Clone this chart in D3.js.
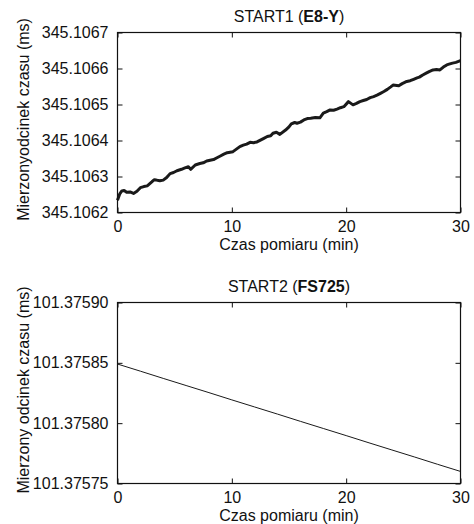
<!DOCTYPE html>
<html>
<head>
<meta charset="utf-8">
<script src="https://cdn.jsdelivr.net/npm/d3@7"></script>
<style>
  body { margin: 0; background: #fff; }
  svg text { font-family: "Liberation Sans", Arial, sans-serif; fill: #111; }
</style>
</head>
<body>
<div id="chart"></div>
<script>
// START1 (E8-Y) measured interval, minutes vs ms
let time1 = [0, 0.2, 0.38, 0.58, 0.8, 1.1, 1.4, 1.7, 2.0, 2.3, 2.6, 3.0, 3.2, 3.4, 3.7, 4.0, 4.3, 4.6, 4.9, 5.2, 5.6, 5.9, 6.2, 6.4, 6.8, 7.2, 7.5, 7.8, 8.1, 8.4, 8.7, 9.0, 9.3, 9.6, 10.1, 10.4, 10.7, 11.0, 11.3, 11.6, 11.9, 12.2, 12.5, 12.8, 13.1, 13.4, 13.6, 13.9, 14.2, 14.7, 15.0, 15.2, 15.5, 15.7, 16.0, 16.3, 16.6, 16.9, 17.3, 17.7, 18.0, 18.3, 18.6, 18.9, 19.2, 19.5, 19.8, 20.2, 20.6, 20.9, 21.2, 21.5, 21.8, 22.1, 22.4, 22.7, 23.0, 23.3, 23.6, 23.9, 24.1, 24.6, 24.9, 25.3, 25.6, 25.9, 26.2, 26.4, 26.7, 27.0, 27.3, 27.6, 27.9, 28.2, 28.5, 28.8, 29.0, 29.3, 29.6, 30];
let value1 = [345.106234, 345.106252, 345.106260, 345.106261, 345.106256, 345.106257, 345.106253, 345.106259, 345.106269, 345.106272, 345.106274, 345.106285, 345.106291, 345.106290, 345.106288, 345.106290, 345.106297, 345.106308, 345.106311, 345.106316, 345.106320, 345.106324, 345.106327, 345.106320, 345.106332, 345.106336, 345.106338, 345.106343, 345.106345, 345.106347, 345.106352, 345.106357, 345.106362, 345.106366, 345.106369, 345.106376, 345.106383, 345.106387, 345.106390, 345.106395, 345.106394, 345.106396, 345.106401, 345.106406, 345.106411, 345.106413, 345.106420, 345.106423, 345.106417, 345.106429, 345.106438, 345.106446, 345.106450, 345.106448, 345.106451, 345.106457, 345.106461, 345.106462, 345.106464, 345.106463, 345.106476, 345.106480, 345.106485, 345.106484, 345.106487, 345.106491, 345.106494, 345.106508, 345.106499, 345.106503, 345.106508, 345.106511, 345.106514, 345.106519, 345.106522, 345.106526, 345.106531, 345.106536, 345.106542, 345.106549, 345.106554, 345.106552, 345.106558, 345.106564, 345.106566, 345.106570, 345.106574, 345.106576, 345.106582, 345.106587, 345.106592, 345.106596, 345.106597, 345.106596, 345.106604, 345.106610, 345.106612, 345.106615, 345.106617, 345.106622];

// START2 (FS725)
let time2 = [0, 2, 4, 6, 8, 10, 12, 14, 16, 18, 20, 22, 24, 26, 28, 30];
let value2 = [101.3758490, 101.3758431, 101.3758371, 101.3758312, 101.3758253, 101.3758193, 101.3758134, 101.3758075, 101.3758015, 101.3757956, 101.3757897, 101.3757837, 101.3757778, 101.3757719, 101.3757659, 101.3757600];

let xTicks = [0, 10, 20, 30];
let yTicks1 = [345.1062, 345.1063, 345.1064, 345.1065, 345.1066, 345.1067];
let yTicks2 = [101.37575, 101.37580, 101.37585, 101.37590];

let width = 474;
let height = 524;

let svg = d3.select("#chart").append("svg")
    .attr("width", width)
    .attr("height", height);

function drawPanel(opts) {
    let left = 117.5, right = 460.5;
    let top = opts.top, bottom = opts.bottom;

    let x = d3.scaleLinear().domain([0, 30]).range([left, right]);
    let y = d3.scaleLinear().domain(opts.yDomain).range([bottom, top]);

    let g = svg.append("g");

    // curve
    let line = d3.line()
        .x((d, i) => x(opts.t[i]))
        .y(d => y(d));
    g.append("path")
        .datum(opts.v)
        .attr("d", line)
        .attr("fill", "none")
        .attr("stroke", "#1a1a1a")
        .attr("stroke-width", opts.lw)
        .attr("stroke-linejoin", "round");

    // axes with inward ticks, MATLAB style box
    let tl = 5;
    g.append("g")
        .attr("transform", `translate(0,${bottom})`)
        .call(d3.axisBottom(x).tickValues(xTicks).tickSizeInner(-tl).tickSizeOuter(0).tickPadding(8))
        .call(a => a.selectAll("text").style("font-size", "16px"));
    g.append("g")
        .attr("transform", `translate(0,${top})`)
        .call(d3.axisTop(x).tickValues(xTicks).tickSizeInner(-tl).tickSizeOuter(0).tickFormat(""));
    g.append("g")
        .attr("transform", `translate(${left},0)`)
        .call(d3.axisLeft(y).tickValues(opts.yTicks).tickSizeInner(-tl).tickSizeOuter(0).tickPadding(9).tickFormat(opts.fmt))
        .call(a => a.selectAll("text").style("font-size", "16px"));
    g.append("g")
        .attr("transform", `translate(${right},0)`)
        .call(d3.axisRight(y).tickValues(opts.yTicks).tickSizeInner(-tl).tickSizeOuter(0).tickFormat(""));
    g.selectAll(".domain").remove();
    g.selectAll(".tick line").attr("stroke", "#111");

    g.append("rect")
        .attr("x", left).attr("y", top)
        .attr("width", right - left).attr("height", bottom - top)
        .attr("fill", "none").attr("stroke", "#111").attr("stroke-width", 1.2);

    // title
    let title = g.append("text")
        .attr("x", (left + right) / 2)
        .attr("y", top - 11)
        .attr("text-anchor", "middle")
        .style("font-size", "16px");
    title.append("tspan").text(opts.title[0]);
    title.append("tspan").attr("font-weight", "bold").text(opts.title[1]);
    title.append("tspan").text(")");

    // axis labels
    g.append("text")
        .attr("x", (left + right) / 2)
        .attr("y", bottom + 37)
        .attr("text-anchor", "middle")
        .style("font-size", "16px")
        .text("Czas pomiaru (min)");
    g.append("text")
        .attr("transform", `translate(29,${(top + bottom) / 2 - 3}) rotate(-90)`)
        .attr("text-anchor", "middle")
        .style("font-size", "16px")
        .text(opts.ylabel);
}

drawPanel({
    top: 32.5, bottom: 212.5,
    yDomain: [345.1062, 345.1067],
    yTicks: yTicks1,
    fmt: d3.format(".4f"),
    t: time1, v: value1, lw: 3,
    title: ["START1 (", "E8-Y"],
    ylabel: "Mierzonyodcinek czasu (ms)"
});

drawPanel({
    top: 302.5, bottom: 483.5,
    yDomain: [101.37575, 101.37590],
    yTicks: yTicks2,
    fmt: d3.format(".5f"),
    t: time2, v: value2, lw: 1,
    title: ["START2 (", "FS725"],
    ylabel: "Mierzony odcinek czasu (ms)"
});
</script>
</body>
</html>
